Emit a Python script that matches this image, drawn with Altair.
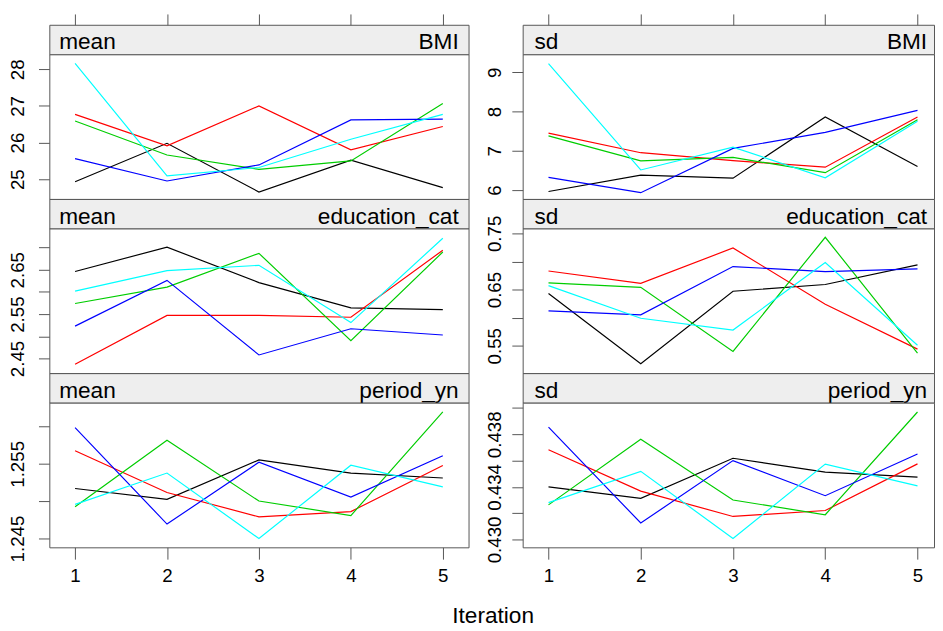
import altair as alt
import pandas as pd

FONT = "Liberation Sans"

iterations = [1, 2, 3, 4, 5]
chains = ["1", "2", "3", "4", "5"]
chain_colors = ["#000000", "#FF0000", "#00CD00", "#0000FF", "#00FFFF"]

# chain -> value at iterations 1..5
bmi_mean = {
    "1": [24.93, 25.98, 24.65, 25.52, 24.77],
    "2": [26.77, 25.91, 27.00, 25.80, 26.44],
    "3": [26.59, 25.66, 25.27, 25.50, 27.07],
    "4": [25.56, 24.95, 25.39, 26.62, 26.64],
    "5": [28.16, 25.09, 25.32, 26.09, 26.77],
}
bmi_sd = {
    "1": [5.96, 6.38, 6.30, 7.86, 6.60],
    "2": [7.45, 6.95, 6.75, 6.58, 7.86],
    "3": [7.38, 6.74, 6.83, 6.44, 7.79],
    "4": [6.32, 5.93, 7.06, 7.47, 8.03],
    "5": [9.22, 6.51, 7.09, 6.31, 7.75],
}
edu_mean = {
    "1": [2.646, 2.701, 2.621, 2.564, 2.560],
    "2": [2.437, 2.547, 2.547, 2.543, 2.694],
    "3": [2.574, 2.611, 2.687, 2.490, 2.690],
    "4": [2.523, 2.626, 2.458, 2.517, 2.503],
    "5": [2.602, 2.648, 2.660, 2.531, 2.721],
}
edu_sd = {
    "1": [0.643, 0.518, 0.647, 0.659, 0.694],
    "2": [0.683, 0.661, 0.724, 0.624, 0.544],
    "3": [0.662, 0.654, 0.540, 0.743, 0.537],
    "4": [0.612, 0.605, 0.691, 0.682, 0.687],
    "5": [0.657, 0.599, 0.578, 0.698, 0.551],
}
period_mean = {
    "1": [1.25170, 1.25024, 1.25553, 1.25377, 1.25311],
    "2": [1.25676, 1.25117, 1.24791, 1.24861, 1.25478],
    "3": [1.24927, 1.25817, 1.25002, 1.24808, 1.26196],
    "4": [1.25985, 1.24694, 1.25522, 1.25055, 1.25610],
    "5": [1.24958, 1.25377, 1.24500, 1.25482, 1.25192],
}
period_sd = {
    "1": [0.43400, 0.43313, 0.43618, 0.43513, 0.43475],
    "2": [0.43683, 0.43368, 0.43175, 0.43220, 0.43575],
    "3": [0.43263, 0.43763, 0.43300, 0.43188, 0.43970],
    "4": [0.43855, 0.43125, 0.43600, 0.43333, 0.43650],
    "5": [0.43280, 0.43518, 0.43008, 0.43573, 0.43408],
}

# tick values and labelled ticks per panel
bmi_mean_ticks = [25, 26, 27, 28]
bmi_mean_labels = [25, 26, 27, 28]
bmi_sd_ticks = [6, 7, 8, 9]
bmi_sd_labels = [6, 7, 8, 9]
edu_mean_ticks = [2.45, 2.50, 2.55, 2.60, 2.65, 2.70]
edu_mean_labels = [2.45, 2.55, 2.65]
edu_sd_ticks = [0.55, 0.60, 0.65, 0.70, 0.75]
edu_sd_labels = [0.55, 0.65, 0.75]
period_mean_ticks = [1.245, 1.250, 1.255, 1.260]
period_mean_labels = [1.245, 1.255]
period_sd_ticks = [0.430, 0.432, 0.434, 0.436, 0.438, 0.440]
period_sd_labels = [0.430, 0.434, 0.438]

W_LEFT, W_RIGHT = 426, 418
XDOM_LEFT = [0.72, 5.28]
XDOM_RIGHT = [0.72, 5.179]
STRIP_H, PLOT_H = 30, 147
TICK_COL = "#555555"


def label_expr(labeled, fmt):
    arr = ",".join("'" + format(v, fmt) + "'" for v in labeled)
    f = "format(datum.value, '" + fmt + "')"
    return "indexof([" + arr + "], " + f + ") >= 0 ? " + f + " : ''"


def strip(stat, var, W, xdom, top_axis, left_off, right_off):
    axis = None
    if top_axis:
        axis = alt.Axis(orient="top", values=iterations, labels=False, tickSize=11,
                        domain=False, grid=False, title=None, tickColor=TICK_COL)
    base = alt.Chart(pd.DataFrame({"Iteration": iterations})).mark_point(opacity=0).encode(
        x=alt.X("Iteration:Q", scale=alt.Scale(domain=xdom, nice=False, zero=False), axis=axis)
    )
    sdf = pd.DataFrame({"stat": [stat], "var": [var]})
    left = alt.Chart(sdf).mark_text(align="left", baseline="alphabetic", fontSize=23,
                                    font=FONT, color="#000000").encode(
        x=alt.value(left_off), y=alt.value(25), text="stat:N")
    right = alt.Chart(sdf).mark_text(align="right", baseline="alphabetic", fontSize=23,
                                     font=FONT, color="#000000").encode(
        x=alt.value(W - right_off), y=alt.value(25), text="var:N")
    return alt.layer(base, left, right).properties(
        width=W, height=STRIP_H, view=alt.ViewBackground(fill="#EEEEEE", stroke=TICK_COL))


def plot_panel(values, ydom, ticks, labeled, fmt, W, xdom, bottom, lpad):
    rows = []
    for c in chains:
        for it, v in zip(iterations, values[c]):
            rows.append({"Iteration": it, "chain": c, "value": v})
    df = pd.DataFrame(rows)
    xaxis = None
    if bottom:
        xaxis = alt.Axis(values=iterations, tickSize=12, labelPadding=8, labelFontSize=19,
                         labelFlush=False, domain=False, grid=False, title=None, format="d",
                         tickColor=TICK_COL)
    yaxis = alt.Axis(values=ticks, labelExpr=label_expr(labeled, fmt), labelAngle=-90,
                     labelAlign="center", labelBaseline="bottom", tickSize=11, labelPadding=lpad,
                     labelFontSize=19, labelOverlap=False, domain=False, grid=False,
                     title=None, tickColor=TICK_COL)
    return alt.Chart(df).mark_line(strokeWidth=1.2, clip=True).encode(
        x=alt.X("Iteration:Q", scale=alt.Scale(domain=xdom, nice=False, zero=False), axis=xaxis),
        y=alt.Y("value:Q", scale=alt.Scale(domain=ydom, nice=False, zero=False), axis=yaxis),
        color=alt.Color("chain:N", scale=alt.Scale(domain=chains, range=chain_colors), legend=None),
    ).properties(width=W, height=PLOT_H, view=alt.ViewBackground(fill="#FFFFFF", stroke=TICK_COL))


LP_L, LP_R = 11, 8
cells = [
    strip("mean", "BMI", W_LEFT, XDOM_LEFT, True, 10, 10),
    strip("sd", "BMI", W_RIGHT, XDOM_RIGHT, True, 12, 7),
    plot_panel(bmi_mean, [24.46, 28.41], bmi_mean_ticks, bmi_mean_labels, "d", W_LEFT, XDOM_LEFT, False, LP_L),
    plot_panel(bmi_sd, [5.77, 9.46], bmi_sd_ticks, bmi_sd_labels, "d", W_RIGHT, XDOM_RIGHT, False, LP_R),
    strip("mean", "education_cat", W_LEFT, XDOM_LEFT, False, 10, 10),
    strip("sd", "education_cat", W_RIGHT, XDOM_RIGHT, False, 12, 7),
    plot_panel(edu_mean, [2.417, 2.743], edu_mean_ticks, edu_mean_labels, ".2f", W_LEFT, XDOM_LEFT, False, LP_L),
    plot_panel(edu_sd, [0.5013, 0.7587], edu_sd_ticks, edu_sd_labels, ".2f", W_RIGHT, XDOM_RIGHT, False, LP_R),
    strip("mean", "period_yn", W_LEFT, XDOM_LEFT, False, 10, 10),
    strip("sd", "period_yn", W_RIGHT, XDOM_RIGHT, False, 12, 7),
    plot_panel(period_mean, [1.24382, 1.2632], period_mean_ticks, period_mean_labels, ".3f", W_LEFT, XDOM_LEFT, True, LP_L),
    plot_panel(period_sd, [0.4294, 0.44041], period_sd_ticks, period_sd_labels, ".3f", W_RIGHT, XDOM_RIGHT, True, LP_R),
]

chart = alt.concat(*cells, columns=2, spacing={"row": 0, "column": 55}, bounds="flush",
                   padding=0).properties(
    title=alt.TitleParams("Iteration", orient="bottom", anchor="middle", fontSize=23,
                          font=FONT, fontWeight="normal", color="#000000", offset=19, dx=22)
).configure_axis(
    labelFont=FONT, labelColor="#000000", tickWidth=1
).configure_view(
    stroke=TICK_COL, strokeWidth=1
)

chart.save("out.html", embed_options={"renderer": "svg", "actions": False})
